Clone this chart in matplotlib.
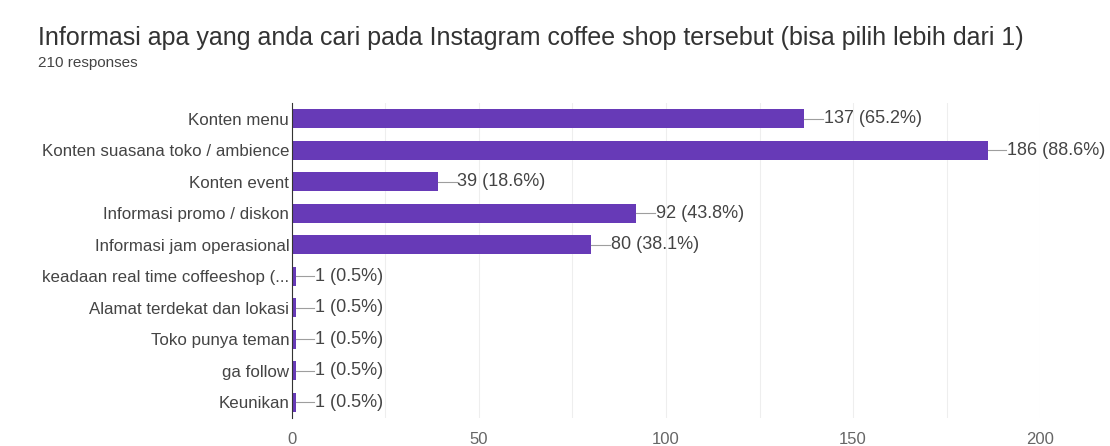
import matplotlib
matplotlib.use("Agg")
from matplotlib import pyplot as plt

categories = [
    "Konten menu",
    "Konten suasana toko / ambience",
    "Konten event",
    "Informasi promo / diskon",
    "Informasi jam operasional",
    "keadaan real time coffeeshop (...",
    "Alamat terdekat dan lokasi",
    "Toko punya teman",
    "ga follow",
    "Keunikan",
]
counts = [137, 186, 39, 92, 80, 1, 1, 1, 1, 1]
percents = ["65.2%", "88.6%", "18.6%", "43.8%", "38.1%", "0.5%", "0.5%", "0.5%", "0.5%", "0.5%"]
x_ticks = [0, 50, 100, 150, 200]
title = "Informasi apa yang anda cari pada Instagram coffee shop tersebut (bisa pilih lebih dari 1)"
subtitle = "210 responses"

plt.rcParams["font.family"] = ["Liberation Sans", "DejaVu Sans"]

fig = plt.figure(figsize=(11.1, 4.46), dpi=100)
ax = fig.add_axes([0.263, 0.063, 0.674, 0.706])

y = list(range(len(categories)))
ax.barh(y, counts, height=0.6, color="#673ab7", zorder=3)

# leader line + "count (pct)" label after each bar
for i, (c, p) in enumerate(zip(counts, percents)):
    ax.plot([c, c + 5], [i, i], color="#9e9e9e", lw=0.8, zorder=3)
    ax.text(c + 5.2, i, f"{c} ({p})", va="center", ha="left", fontsize=13, color="#444444")

ax.set_xlim(0, 200)
ax.set_ylim(len(categories) - 0.5, -0.5)
ax.set_yticks(y)
ax.set_yticklabels(categories, fontsize=12.2, color="#444444")
ax.set_xticks(x_ticks)
ax.set_xticklabels([str(t) for t in x_ticks], fontsize=12, color="#666666")
ax.set_xticks(range(0, 201, 25), minor=True)
ax.tick_params(axis="both", length=0, which="both", pad=2)
ax.tick_params(axis="x", pad=10)
ax.grid(axis="x", which="both", color="#eeeeee", lw=0.8, zorder=0)
for s in ["top", "right", "bottom"]:
    ax.spines[s].set_visible(False)
ax.spines["left"].set_color("#333333")
ax.spines["left"].set_linewidth(0.8)
ax.spines["left"].set_zorder(4)

fig.text(38 / 1110, 1 - 38 / 446, title, fontsize=18, color="#333333", va="center")
fig.text(38 / 1110, 1 - 63 / 446, subtitle, fontsize=11, color="#444444", va="center")

fig.savefig("out.png", dpi=100)
plt.close(fig)
